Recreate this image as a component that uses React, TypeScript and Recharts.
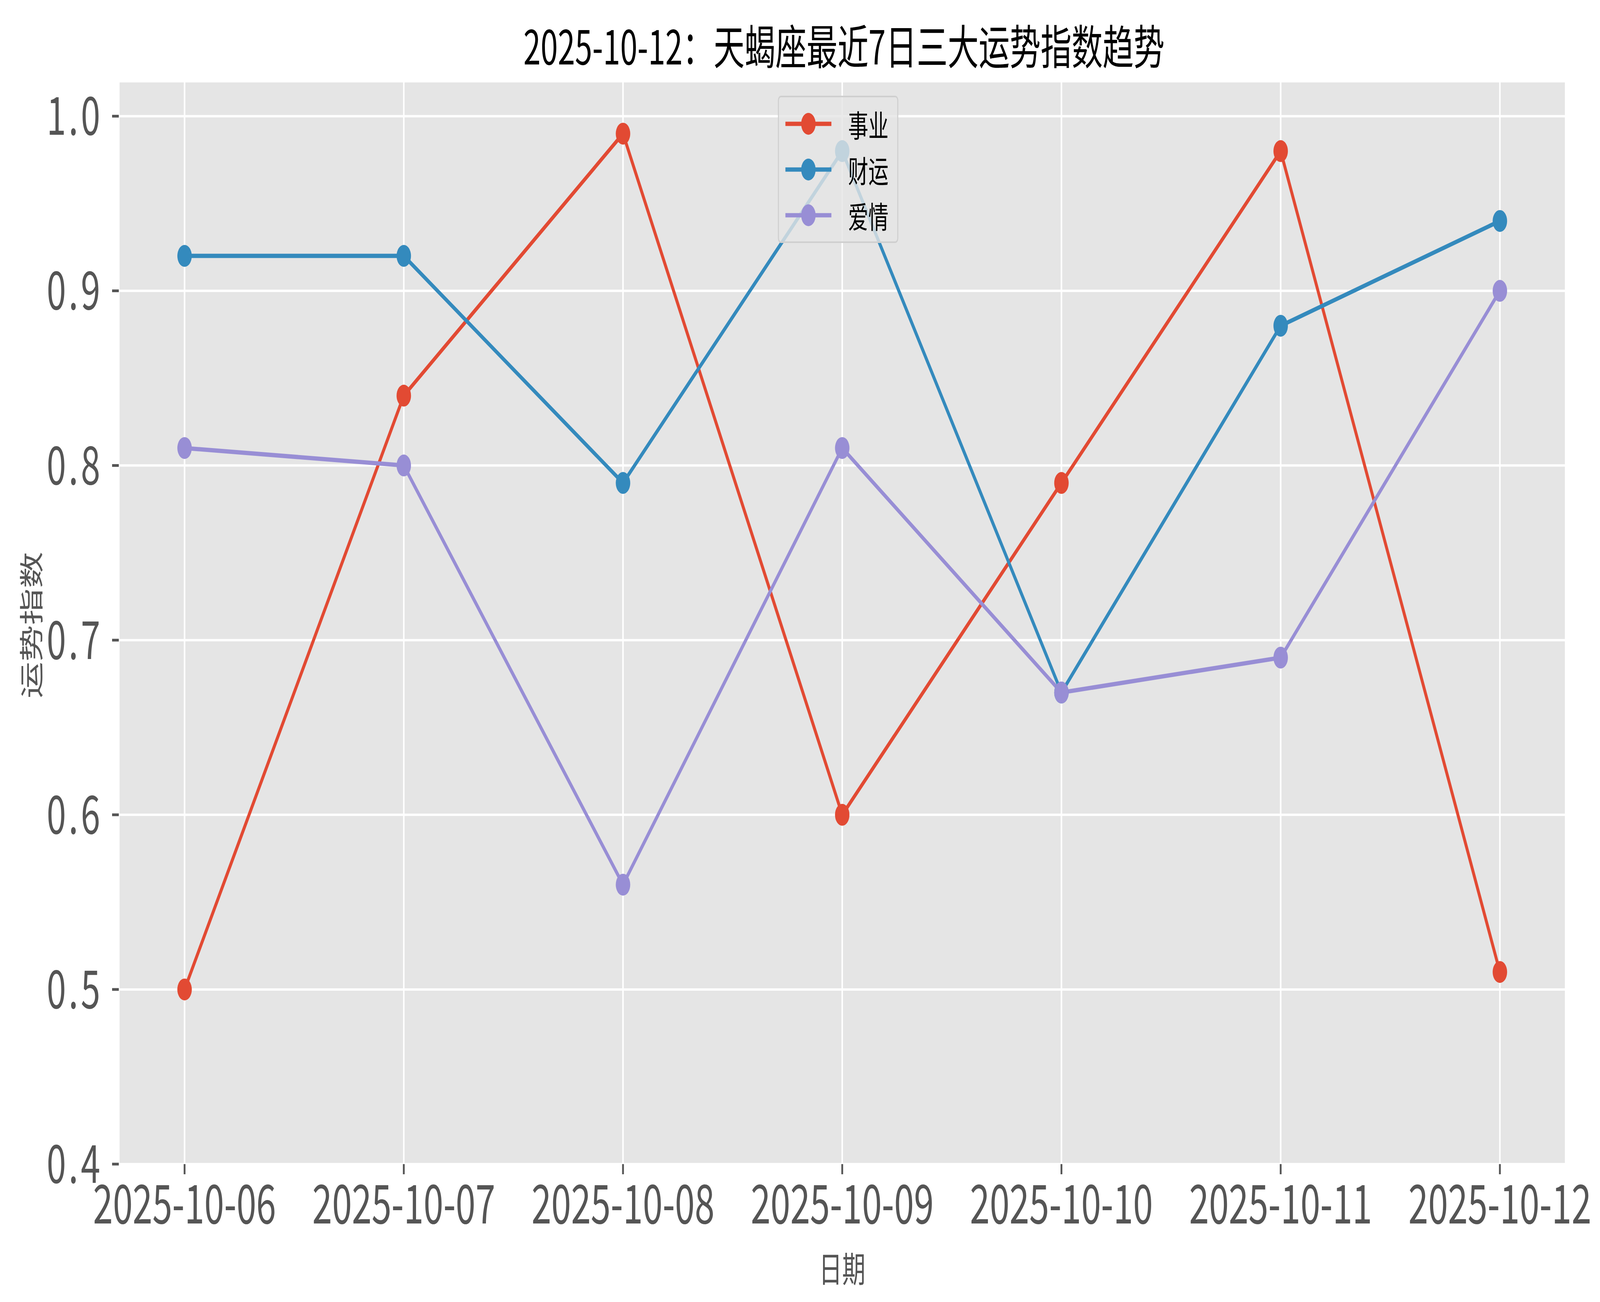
import { CartesianGrid, Legend, Line, LineChart, XAxis, YAxis } from "recharts";

const W = 6195;
const H = 3333;
// the capture only covers 4096px of width, so the full-size chart is squeezed to fit it
const SHOT_W = 4096;
const FONT = '"Noto Sans CJK SC", "Noto Sans", sans-serif';

// 7 days of data
const dates = [
  "2025-10-06",
  "2025-10-07",
  "2025-10-08",
  "2025-10-09",
  "2025-10-10",
  "2025-10-11",
  "2025-10-12",
];
const career = [0.5, 0.84, 0.99, 0.6, 0.79, 0.98, 0.51];
const wealth = [0.92, 0.92, 0.79, 0.98, 0.67, 0.88, 0.94];
const love = [0.81, 0.8, 0.56, 0.81, 0.67, 0.69, 0.9];
const yTicks = [0.4, 0.5, 0.6, 0.7, 0.8, 0.9, 1.0];

const seriesNames = ["事业", "财运", "爱情"];
const seriesKeys = ["career", "wealth", "love"];
const seriesColors = ["#E24A33", "#348ABD", "#988ED5"];

const data = dates.map((d, i) => ({
  idx: i,
  date: d,
  career: career[i],
  wealth: wealth[i],
  love: love[i],
}));

// matplotlib-ish legend box in the upper centre
function renderLegend() {
  return (
    <div
      style={{
        width: 466,
        height: 377,
        boxSizing: "border-box",
        background: "rgba(229,229,229,0.8)",
        border: "4px solid #cfcfcf",
        borderRadius: 12,
        position: "relative",
        fontFamily: FONT,
      }}
    >
      {seriesNames.map((name, i) => (
        <div
          key={name}
          style={{
            position: "absolute",
            left: 0,
            top: 68 + i * 117 - 50,
            height: 100,
            width: "100%",
          }}
        >
          <svg width={230} height={100} style={{ position: "absolute", left: 0, top: 0 }}>
            <line x1={25} x2={203} y1={50} y2={50} stroke={seriesColors[i]} strokeWidth={11} />
            <circle cx={114} cy={50} r={28} fill={seriesColors[i]} />
          </svg>
          <span
            style={{
              position: "absolute",
              left: 268,
              top: 0,
              lineHeight: "100px",
              fontSize: 78,
              color: "#000",
            }}
          >
            {name}
          </span>
        </div>
      ))}
    </div>
  );
}

export default function App() {
  return (
    <div
      style={{
        position: "relative",
        margin: "-8px 0 0 -8px",
        width: SHOT_W,
        height: H,
        overflow: "hidden",
        background: "#fff",
      }}
    >
      <div
        style={{
          position: "absolute",
          left: 0,
          top: 0,
          width: W,
          height: H,
          transform: `scaleX(${SHOT_W / W})`,
          transformOrigin: "0 0",
          fontFamily: FONT,
        }}
      >
        <LineChart
          width={W}
          height={H}
          data={data}
          margin={{ top: 208, right: 133, bottom: 0, left: 60 }}
        >
          <CartesianGrid fill="#E5E5E5" stroke="#ffffff" strokeWidth={6} />
          <XAxis
            dataKey="idx"
            type="number"
            domain={[-0.3, 6.3]}
            ticks={[0, 1, 2, 3, 4, 5, 6]}
            tickFormatter={(v) => dates[v]}
            height={353}
            axisLine={false}
            tickSize={26}
            tickMargin={28}
            tickLine={{ stroke: "#555555", strokeWidth: 7 }}
            tick={{ fill: "#555555", fontSize: 138, fontFamily: FONT }}
            interval={0}
          />
          <YAxis
            type="number"
            domain={[0.4, 1.02]}
            ticks={yTicks}
            allowDataOverflow
            tickFormatter={(v) => v.toFixed(1)}
            width={400}
            axisLine={false}
            tickSize={26}
            tickMargin={36}
            tickLine={{ stroke: "#555555", strokeWidth: 7 }}
            tick={{ fill: "#555555", fontSize: 135, fontFamily: FONT, letterSpacing: 10 }}
          />
          {seriesKeys.map((k, i) => (
            <Line
              key={k}
              type="linear"
              dataKey={k}
              name={seriesNames[i]}
              stroke={seriesColors[i]}
              strokeWidth={11}
              dot={{ r: 28, fill: seriesColors[i], stroke: "none" }}
              activeDot={false}
              isAnimationActive={false}
            />
          ))}
          <Legend
            layout="vertical"
            align="center"
            verticalAlign="middle"
            content={renderLegend}
            wrapperStyle={{ left: 3012, top: 245, width: 466, height: 377 }}
          />
        </LineChart>

        {/* title and axis labels */}
        <svg
          width={W}
          height={H}
          style={{ position: "absolute", left: 0, top: 0, pointerEvents: "none" }}
        >
          <text
            x={3268}
            y={113}
            textAnchor="middle"
            dominantBaseline="central"
            fontSize={120}
            fontFamily={FONT}
            fill="#000"
          >
            2025-10-12：天蝎座最近7日三大运势指数趋势
          </text>
          <text
            x={3261}
            y={3243}
            textAnchor="middle"
            dominantBaseline="central"
            fontSize={90}
            fontFamily={FONT}
            fill="#555555"
          >
            日期
          </text>
          <text
            x={116}
            y={1600}
            textAnchor="middle"
            dominantBaseline="central"
            fontSize={94}
            fontFamily={FONT}
            fill="#555555"
            transform="rotate(-90 116 1600)"
          >
            运势指数
          </text>
        </svg>
      </div>
    </div>
  );
}
